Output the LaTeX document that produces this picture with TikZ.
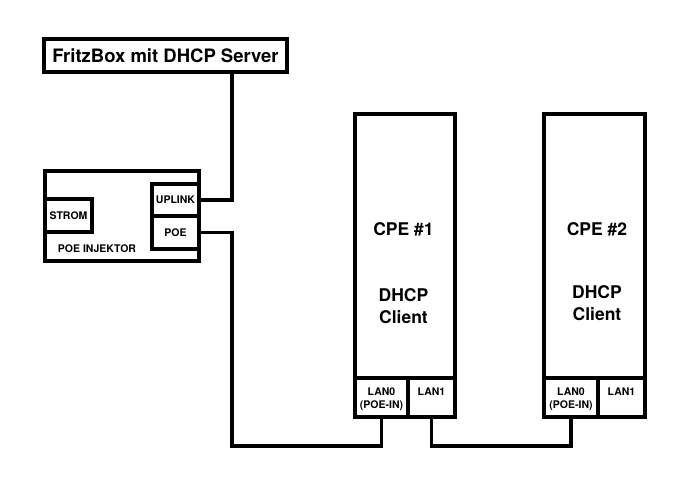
\documentclass[tikz,border=0pt]{standalone}
\usepackage{fontspec}
\setmainfont{TeX Gyre Heros}
\begin{document}
\begin{tikzpicture}[x=1pt,y=-1pt,
  box/.style={draw=black,line width=3.2pt,fill=white,rectangle,inner sep=0pt,outer sep=0pt},
  wire/.style={draw=black,line width=3.2pt,line cap=butt,line join=miter},
  small/.style={font=\fontsize{10.5}{13}\selectfont\bfseries,align=center},
  big/.style={font=\fontsize{17.5}{22}\selectfont\bfseries,align=center}]
\useasboundingbox[fill=white] (0,0) rectangle (690,487);
% boxes
\node[box,minimum width=243pt,minimum height=33pt,font=\fontsize{18.5}{22}\selectfont\bfseries] (fritz) at (165.5,55.5) {FritzBox mit DHCP Server};
\node[box,minimum width=154pt,minimum height=90pt] (inj) at (122,216) {};
\node[box,minimum width=47pt,minimum height=33pt,small] (strom) at (68.5,215.5) {STROM};
\node[box,minimum width=47pt,minimum height=32pt,small] (uplink) at (175.5,200) {UPLINK};
\node[box,minimum width=47pt,minimum height=33pt,small] (poe) at (175.5,232.5) {POE};
\node[small] (injlabel) at (97,248.5) {POE INJEKTOR};
\node[box,minimum width=100pt,minimum height=264pt] (cpe1) at (405,246) {};
\node[box,minimum width=53pt,minimum height=39pt] (lan0a) at (381.5,397.5) {};
\node[box,minimum width=47pt,minimum height=39pt] (lan1a) at (431.5,397.5) {};
\node[box,minimum width=101pt,minimum height=264pt] (cpe2) at (594.5,246) {};
\node[box,minimum width=54pt,minimum height=39pt] (lan0b) at (571,397.5) {};
\node[box,minimum width=47pt,minimum height=39pt] (lan1b) at (621.5,397.5) {};
% labels
\node[big] (cpe1t) at (403.5,229) {CPE \#1};
\node[big] (cpe1d) at (403.5,306) {DHCP\\Client};
\node[big] (cpe2t) at (597,229) {CPE \#2};
\node[big] (cpe2d) at (597,303) {DHCP\\Client};
\node[small,anchor=north] (l0a) at (381.5,384) {LAN0\\(POE-IN)};
\node[small,anchor=north] (l1a) at (431.5,384) {LAN1};
\node[small,anchor=north] (l0b) at (571,384) {LAN0\\(POE-IN)};
\node[small,anchor=north] (l1b) at (621.5,384) {LAN1};
% connectors
\coordinate (bus) at (232,0);
\coordinate (bot) at (0,446);
\draw[wire] (uplink.east) -| (bus |- fritz.south);
\draw[wire] (poe.east) -| (bus |- bot) -| (lan0a.south);
\draw[wire] (lan1a.south) |- (bot -| lan0b.south) -- (lan0b.south);
\end{tikzpicture}
\end{document}
